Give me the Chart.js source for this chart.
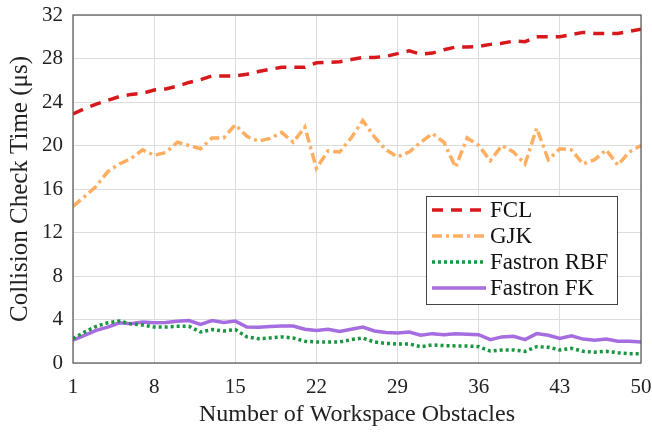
<!DOCTYPE html>
<html>
<head>
<meta charset="utf-8">
<script src="https://cdn.jsdelivr.net/npm/chart.js@4"></script>
<style>
  body { margin: 0; background: #fff; }
</style>
</head>
<body>
<canvas id="collisionChart" width="652" height="433"></canvas>
<script>
// number of obstacles on the x axis
const obstacles = [1,2,3,4,5,6,7,8,9,10,11,12,13,14,15,16,17,18,19,20,21,22,23,24,25,
  26,27,28,29,30,31,32,33,34,35,36,37,38,39,40,41,42,43,44,45,46,47,48,49,50];
const xTicks = [1, 8, 15, 22, 29, 36, 43, 50];
const yTicks = [0, 4, 8, 12, 16, 20, 24, 28, 32];

// collision check time in microseconds
const fcl = [22.9,23.4,23.8,24.15,24.5,24.7,24.8,25.1,25.2,25.45,
  25.8,26.05,26.4,26.4,26.4,26.55,26.8,27.0,27.2,27.2,
  27.2,27.6,27.65,27.7,27.9,28.1,28.1,28.2,28.45,28.7,
  28.4,28.5,28.8,29.05,29.05,29.1,29.3,29.4,29.6,29.55,
  30.0,30.0,30.0,30.2,30.4,30.3,30.3,30.3,30.5,30.7];
const gjk = [14.4,15.3,16.25,17.6,18.3,18.8,19.6,19.1,19.35,20.3,
  20.0,19.7,20.7,20.7,21.9,20.85,20.4,20.65,21.2,20.3,
  21.7,17.9,19.5,19.4,20.7,22.3,20.8,19.6,18.95,19.4,
  20.3,21.1,20.3,18.0,20.7,20.0,18.6,20.0,19.4,18.3,
  21.6,18.7,19.7,19.6,18.3,18.7,19.6,18.2,19.4,20.0];
const fastronRbf = [2.24,2.85,3.37,3.7,3.86,3.6,3.5,3.3,3.3,3.37,
  3.37,2.85,3.07,2.95,3.07,2.4,2.24,2.3,2.4,2.3,
  2.0,1.93,1.93,1.93,2.15,2.3,1.93,1.8,1.75,1.75,
  1.5,1.66,1.6,1.57,1.57,1.5,1.1,1.2,1.2,1.07,
  1.5,1.45,1.2,1.35,1.07,1.0,1.07,0.95,0.86,0.86];
const fastronFk = [2.1,2.55,3.0,3.3,3.7,3.6,3.77,3.7,3.72,3.83,
  3.9,3.55,3.9,3.72,3.85,3.3,3.28,3.35,3.4,3.4,
  3.1,3.0,3.1,2.9,3.1,3.3,2.95,2.8,2.77,2.85,
  2.55,2.7,2.6,2.7,2.65,2.6,2.15,2.4,2.45,2.15,
  2.7,2.55,2.25,2.5,2.2,2.1,2.2,2.0,2.0,1.93];

const FONT = "'Liberation Serif', 'DejaVu Serif', serif";

function toPoints(values) {
  return values.map((v, i) => ({ x: obstacles[i], y: v }));
}

// frame around the plot and the boxed legend inside it
const framePlugin = {
  id: 'frameAndLegend',
  afterDatasetsDraw(chart) {
    const ctx = chart.ctx;
    const a = chart.chartArea;
    ctx.save();
    ctx.strokeStyle = '#555';
    ctx.lineWidth = 1.2;
    ctx.strokeRect(a.left, a.top, a.right - a.left, a.bottom - a.top);

    // legend box
    const bx = 426, by = 196, bw = 191, bh = 108;
    ctx.fillStyle = '#fff';
    ctx.fillRect(bx, by, bw, bh);
    ctx.strokeStyle = '#444';
    ctx.lineWidth = 1;
    ctx.strokeRect(bx + 0.5, by + 0.5, bw, bh);

    chart.data.datasets.forEach((ds, i) => {
      const y = by + 14 + i * 26;
      ctx.beginPath();
      ctx.setLineDash(ds.borderDash || []);
      ctx.strokeStyle = ds.borderColor;
      ctx.lineWidth = ds.borderWidth;
      ctx.moveTo(432, y);
      ctx.lineTo(486, y);
      ctx.stroke();
      ctx.setLineDash([]);
      ctx.fillStyle = '#111';
      ctx.font = '23px ' + FONT;
      ctx.textBaseline = 'middle';
      ctx.fillText(ds.label, 490, y + 1);
    });
    ctx.restore();
  }
};

document.addEventListener('DOMContentLoaded', () => {
  const ctx = document.getElementById('collisionChart').getContext('2d');
  new Chart(ctx, {
    type: 'line',
    data: {
      datasets: [
        { label: 'FCL', data: toPoints(fcl), borderColor: '#d7191c', borderWidth: 3.5, borderDash: [11, 8] },
        { label: 'GJK', data: toPoints(gjk), borderColor: '#fdae61', borderWidth: 3.5, borderDash: [10, 4, 3, 4] },
        { label: 'Fastron RBF', data: toPoints(fastronRbf), borderColor: '#1a9641', borderWidth: 3.5, borderDash: [3, 3] },
        { label: 'Fastron FK', data: toPoints(fastronFk), borderColor: '#a56de0', borderWidth: 3.5 }
      ]
    },
    options: {
      responsive: false,
      animation: false,
      elements: { point: { radius: 0 }, line: { tension: 0, borderCapStyle: 'butt' } },
      layout: { padding: { top: 15, right: 11, left: 0, bottom: 0 } },
      plugins: { legend: { display: false }, tooltip: { enabled: false } },
      scales: {
        x: {
          type: 'linear',
          min: 1,
          max: 50,
          afterBuildTicks: s => { s.ticks = xTicks.map(v => ({ value: v })); },
          afterFit: s => { s.height = 70; s.paddingLeft = 0; s.paddingRight = 0; },
          grid: { color: '#dddddd', drawTicks: false },
          border: { display: false },
          ticks: { padding: 12, color: '#222', font: { family: FONT, size: 21 } },
          title: {
            display: true,
            text: 'Number of Workspace Obstacles',
            color: '#222',
            font: { family: FONT, size: 24 },
            padding: { top: 0, bottom: 4 }
          }
        },
        y: {
          min: 0,
          max: 32,
          afterBuildTicks: s => { s.ticks = yTicks.map(v => ({ value: v })); },
          afterFit: s => { s.width = 73; s.paddingTop = 0; s.paddingBottom = 0; },
          grid: { color: '#dddddd', drawTicks: false },
          border: { display: false },
          ticks: { padding: 10, color: '#222', font: { family: FONT, size: 21 } },
          title: {
            display: true,
            text: 'Collision Check Time (μs)',
            color: '#222',
            font: { family: FONT, size: 25 },
            padding: { top: 5, bottom: 0 }
          }
        }
      }
    },
    plugins: [framePlugin]
  });
});
</script>
</body>
</html>
